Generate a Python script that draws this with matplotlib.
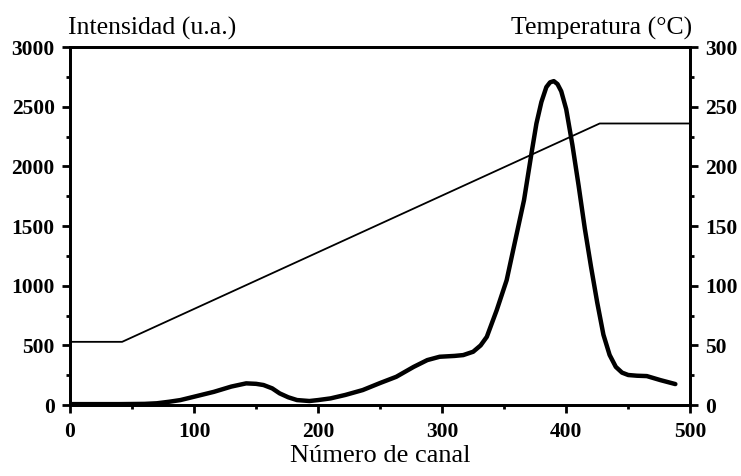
import matplotlib.pyplot as plt
import matplotlib.ticker as mticker

# Intensity curve (channel, intensity in a.u.)
canal = [0, 20, 40, 60, 70, 80, 89, 100, 116, 130, 142, 150, 156, 163, 169, 176, 183,
         193, 200, 210, 222, 236, 250, 263, 277, 288, 298, 310, 317, 325, 331, 336,
         344, 352, 359, 366, 372, 376, 380, 384, 387, 390, 393, 396, 400, 405, 410,
         415, 420, 425, 430, 435, 440, 445, 450, 457, 465, 476, 488]
intensidad = [8, 8, 8, 10, 15, 28, 42, 70, 111, 155, 182, 178, 168, 140, 98, 65, 42,
              34, 42, 56, 85, 126, 185, 237, 320, 377, 405, 412, 419, 447, 500, 572,
              796, 1047, 1383, 1718, 2109, 2360, 2540, 2665, 2705, 2715, 2690, 2630,
              2480, 2180, 1840, 1480, 1160, 860, 590, 420, 320, 272, 252, 246, 243,
              209, 176]

# Temperature program (channel, degC)
canal_temp = [0, 42, 427, 500]
temperatura = [53, 53, 236, 236]

plt.rcParams['font.family'] = 'Liberation Serif'

fig = plt.figure(figsize=(7.41, 4.76), dpi=100)
ax = fig.add_axes([0.0945, 0.149, 0.837, 0.752])
ax2 = ax.twinx()

ax.plot(canal, intensidad, color='black', lw=3.2, solid_capstyle='round',
        solid_joinstyle='round')
ax2.plot(canal_temp, temperatura, color='black', lw=1.3)

ax.set_xlim(0, 500)
ax.set_ylim(0, 3000)
ax2.set_ylim(0, 300)

ax.xaxis.set_major_locator(mticker.MultipleLocator(100))
ax.xaxis.set_minor_locator(mticker.MultipleLocator(50))
ax.yaxis.set_major_locator(mticker.MultipleLocator(500))
ax.yaxis.set_minor_locator(mticker.MultipleLocator(250))
ax2.yaxis.set_major_locator(mticker.MultipleLocator(50))
ax2.yaxis.set_minor_locator(mticker.MultipleLocator(25))

for a in (ax, ax2):
    for sp in a.spines.values():
        sp.set_linewidth(2)
    a.tick_params(which='major', direction='out', length=6, width=2,
                  labelsize=15.5, pad=5)
    a.tick_params(which='minor', direction='out', length=3, width=2)

ax.tick_params(axis='x', pad=6)
for lab in ax.get_xticklabels() + ax.get_yticklabels() + ax2.get_yticklabels():
    lab.set_fontweight('bold')

ax.set_xlabel('Número de canal', fontsize=19, labelpad=2)
fig.text(0.0915, 0.928, 'Intensidad (u.a.)', fontsize=18.5, ha='left', va='baseline')
fig.text(0.934, 0.928, 'Temperatura (°C)', fontsize=18.5, ha='right', va='baseline')

fig.savefig('out.png', dpi=100)
